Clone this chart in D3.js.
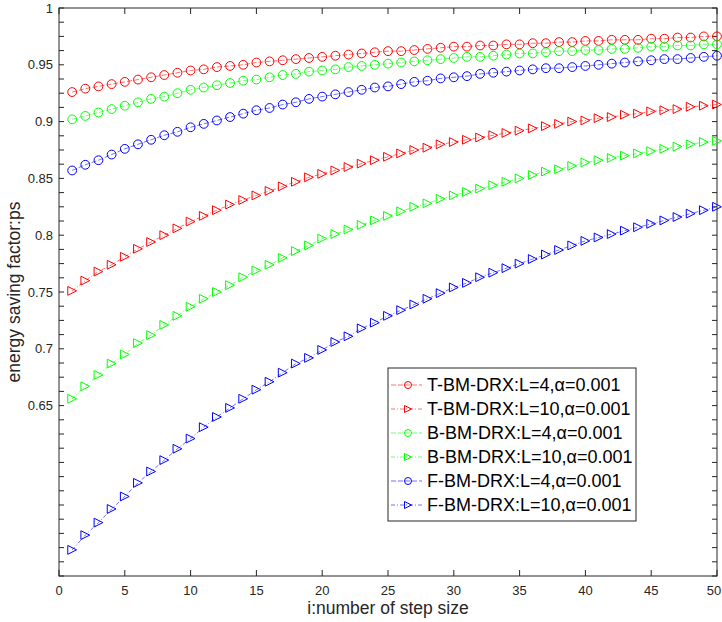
<!DOCTYPE html>
<html>
<head>
<meta charset="utf-8">
<script src="https://cdn.jsdelivr.net/npm/d3@7"></script>
<style>
  body { margin: 0; background: #fff; }
  text { font-family: "Liberation Sans", Arial, sans-serif; }
</style>
</head>
<body>
<div id="chart"></div>
<script>
const steps = d3.range(1, 51);

const tL4 = [0.926,0.929,0.931,0.933,0.935,0.937,0.939,0.941,0.943,0.945,
  0.946,0.948,0.949,0.950,0.952,0.953,0.954,0.955,0.956,0.957,
  0.958,0.959,0.960,0.961,0.962,0.962,0.963,0.964,0.965,0.966,
  0.966,0.967,0.967,0.968,0.968,0.969,0.969,0.970,0.970,0.971,
  0.971,0.972,0.972,0.972,0.973,0.973,0.974,0.974,0.975,0.975];
const tL10 = [0.751,0.760,0.768,0.774,0.781,0.788,0.794,0.800,0.806,0.812,
  0.817,0.822,0.827,0.831,0.835,0.839,0.843,0.847,0.851,0.854,
  0.857,0.860,0.863,0.866,0.869,0.872,0.875,0.877,0.880,0.882,
  0.884,0.886,0.888,0.890,0.892,0.894,0.896,0.898,0.900,0.901,
  0.903,0.904,0.906,0.907,0.909,0.910,0.911,0.913,0.914,0.915];
const bL4 = [0.902,0.905,0.908,0.911,0.914,0.917,0.920,0.922,0.925,0.928,
  0.930,0.932,0.934,0.936,0.937,0.939,0.941,0.942,0.944,0.945,
  0.946,0.948,0.949,0.950,0.951,0.952,0.953,0.954,0.955,0.956,
  0.957,0.957,0.958,0.959,0.960,0.960,0.961,0.962,0.962,0.963,
  0.963,0.964,0.964,0.965,0.966,0.966,0.967,0.967,0.968,0.968];
const bL10 = [0.656,0.667,0.677,0.687,0.695,0.705,0.712,0.721,0.729,0.737,
  0.744,0.750,0.756,0.763,0.769,0.774,0.780,0.786,0.791,0.797,
  0.801,0.805,0.809,0.813,0.817,0.821,0.825,0.828,0.832,0.835,
  0.838,0.841,0.844,0.847,0.850,0.853,0.856,0.858,0.861,0.864,
  0.866,0.868,0.870,0.872,0.874,0.876,0.878,0.880,0.882,0.883];
const fL4 = [0.857,0.862,0.866,0.871,0.876,0.880,0.884,0.888,0.891,0.895,
  0.898,0.901,0.904,0.907,0.910,0.912,0.915,0.917,0.920,0.922,
  0.924,0.926,0.928,0.930,0.931,0.933,0.935,0.936,0.938,0.939,
  0.940,0.942,0.943,0.944,0.945,0.946,0.947,0.947,0.948,0.949,
  0.950,0.951,0.952,0.953,0.954,0.955,0.955,0.956,0.957,0.958];
const fL10 = [0.523,0.536,0.547,0.559,0.570,0.582,0.592,0.602,0.612,0.621,
  0.631,0.640,0.648,0.656,0.664,0.671,0.679,0.687,0.692,0.699,
  0.706,0.711,0.718,0.723,0.729,0.734,0.739,0.744,0.749,0.754,
  0.758,0.763,0.767,0.771,0.775,0.779,0.783,0.787,0.791,0.795,
  0.798,0.801,0.804,0.807,0.810,0.813,0.816,0.819,0.822,0.825];

const xTicks = [0,5,10,15,20,25,30,35,40,45,50];
const yTicks = [0.65,0.7,0.75,0.8,0.85,0.9,0.95,1];

const series = [
  { name: "T-BM-DRX:L=4,\u03b1=0.001",  values: tL4,  color: "#ff0000", marker: "circle" },
  { name: "T-BM-DRX:L=10,\u03b1=0.001", values: tL10, color: "#ff0000", marker: "tri" },
  { name: "B-BM-DRX:L=4,\u03b1=0.001",  values: bL4,  color: "#00ff00", marker: "circle" },
  { name: "B-BM-DRX:L=10,\u03b1=0.001", values: bL10, color: "#00ff00", marker: "tri" },
  { name: "F-BM-DRX:L=4,\u03b1=0.001",  values: fL4,  color: "#0000ff", marker: "circle" },
  { name: "F-BM-DRX:L=10,\u03b1=0.001", values: fL10, color: "#0000ff", marker: "tri" }
];

const width = 722, height = 622;
const margin = { left: 59, right: 5, top: 8, bottom: 46 };

const svg = d3.select("#chart").append("svg")
  .attr("width", width).attr("height", height);

const x = d3.scaleLinear().domain([0, 50]).range([margin.left, width - margin.right]);
const y = d3.scaleLinear().domain([0.5, 1]).range([height - margin.bottom, margin.top]);

const minorY = d3.range(0, 41).map(i => 0.5 + i * 0.0125);

svg.append("rect")
  .attr("x", x(0)).attr("y", y(1))
  .attr("width", x(50) - x(0)).attr("height", y(0.5) - y(1))
  .attr("fill", "none").attr("stroke", "#262626").attr("stroke-width", 1);

const tickG = svg.append("g").attr("stroke", "#262626").attr("stroke-width", 1);
xTicks.forEach(t => {
  tickG.append("line").attr("x1", x(t)).attr("x2", x(t)).attr("y1", y(0.5)).attr("y2", y(0.5) - 6);
  tickG.append("line").attr("x1", x(t)).attr("x2", x(t)).attr("y1", y(1)).attr("y2", y(1) + 6);
});
minorY.forEach(t => {
  tickG.append("line").attr("x1", x(0)).attr("x2", x(0) + 5).attr("y1", y(t)).attr("y2", y(t));
  tickG.append("line").attr("x1", x(50)).attr("x2", x(50) - 5).attr("y1", y(t)).attr("y2", y(t));
});

svg.append("g").selectAll("text").data(xTicks).join("text")
  .attr("x", d => d === 50 ? x(d) - 3 : x(d)).attr("y", y(0.5) + 19)
  .attr("text-anchor", "middle").attr("font-size", 13).attr("fill", "#262626")
  .text(d => d);
svg.append("g").selectAll("text").data(yTicks).join("text")
  .attr("x", x(0) - 6).attr("y", d => y(d) + 4.5)
  .attr("text-anchor", "end").attr("font-size", 13).attr("fill", "#262626")
  .text(d => d);

svg.append("text").attr("x", (x(0) + x(50)) / 2).attr("y", height - 8)
  .attr("text-anchor", "middle").attr("font-size", 17.5).attr("fill", "#262626")
  .text("i:number of step size");
svg.append("text")
  .attr("transform", `translate(20,${(y(0.5) + y(1)) / 2}) rotate(-90)`)
  .attr("text-anchor", "middle").attr("font-size", 17.5).attr("fill", "#262626")
  .text("energy saving factor:ps");

function drawMarker(g, type, cx, cy, color, r) {
  if (type === "circle") {
    g.append("circle").attr("cx", cx).attr("cy", cy).attr("r", r)
      .attr("fill", "none").attr("stroke", color).attr("stroke-width", 1);
  } else {
    g.append("path")
      .attr("d", `M${cx - r},${cy - r}L${cx + r},${cy}L${cx - r},${cy + r}Z`)
      .attr("fill", "none").attr("stroke", color).attr("stroke-width", 1);
  }
}

const line = d3.line().x((d, i) => x(steps[i])).y(d => y(d));

series.forEach(s => {
  svg.append("path").datum(s.values)
    .attr("d", line).attr("fill", "none")
    .attr("stroke", s.color).attr("stroke-width", 0.8)
    .attr("stroke-dasharray", s.marker === "tri" ? "4,2,1,2" : "5,2")
    .attr("opacity", 0.7);
  const g = svg.append("g");
  s.values.forEach((v, i) => drawMarker(g, s.marker, x(steps[i]), y(v), s.color, 4.4));
});

const lg = svg.append("g");
lg.append("rect").attr("x", 388).attr("y", 368).attr("width", 248).attr("height", 153)
  .attr("fill", "#fff").attr("stroke", "#262626").attr("stroke-width", 1);
series.forEach((s, i) => {
  const cy = 385 + i * 24;
  lg.append("line").attr("x1", 391).attr("x2", 422).attr("y1", cy).attr("y2", cy)
    .attr("stroke", s.color).attr("stroke-width", 0.8)
    .attr("stroke-dasharray", s.marker === "tri" ? "4,2,1,2" : "5,2").attr("opacity", 0.7);
  drawMarker(lg, s.marker, 408, cy, s.color, 3.5);
  lg.append("text").attr("x", 427).attr("y", cy + 6)
    .attr("font-size", 18).attr("fill", "#000").text(s.name);
});
</script>
</body>
</html>
